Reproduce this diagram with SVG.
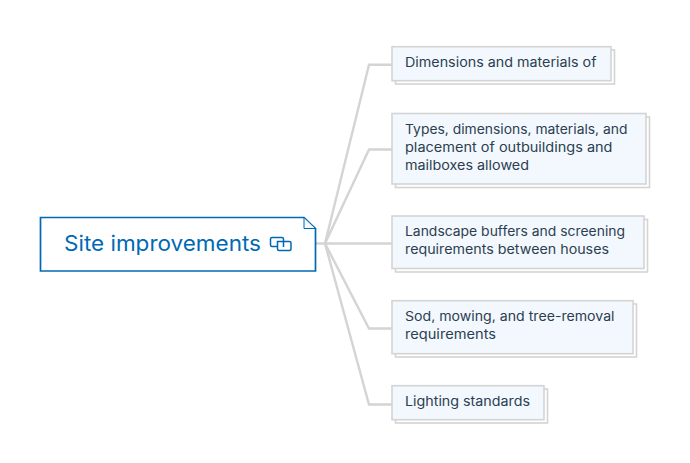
<svg xmlns="http://www.w3.org/2000/svg" width="690" height="463" viewBox="0 0 690 463">
<style>
.shadow{fill:#fff;stroke:#d4d4d4;stroke-width:1.6}
.box{fill:#f2f8fe;stroke:#d4d4d4;stroke-width:1.6}
.t{font-family:"Inter","Noto Sans","Liberation Sans",sans-serif;font-size:13px;fill:#2c3e50}
.c{fill:none;stroke:#d4d4d4;stroke-width:2.4}
.r{fill:none;stroke:#0069b4}
</style>
<rect width="690" height="463" fill="#fff"/>
<g id="connectors">
<path class="c" d="M316 243.500H325L369 64.700H392"/>
<path class="c" d="M325 243.500L369 149.500H392"/>
<path class="c" d="M325 243.500H392"/>
<path class="c" d="M325 243.500L369 328.500H392"/>
<path class="c" d="M325 243.500L369 404.500H392"/>
</g>
<g id="root">
<path d="M40.500 217.500H304L315.500 228.500V271H40.500Z" fill="#fff" stroke="#0069b4" stroke-width="1.700"/>
<path d="M304 217.500V228.500H315.500Z" fill="#f2f8fe" stroke="#0069b4" stroke-width="1"/>
<text x="64" y="251" font-family="Inter,'Noto Sans','Liberation Sans',sans-serif" font-size="21" fill="#0069b4" textLength="197" lengthAdjust="spacingAndGlyphs">Site improvements</text>
<g class="r" stroke-width="1.500">
<path d="M277 246.500H272Q270.500 246.500 270.500 245V239Q270.500 237.500 272 237.500H282Q283.500 237.500 283.500 239V247"/>
<path d="M277.500 241.500H289.500Q291 241.500 291 243V249Q291 250.500 289.500 250.500H279Q277.500 250.500 277.500 249Z"/>
</g>
</g>
<g id="n1">
<rect class="shadow" x="395.500" y="50" width="219" height="34"/>
<rect class="box" x="392" y="46.700" width="219" height="34"/>
<text class="t" x="405" y="66.500" textLength="191.500" lengthAdjust="spacingAndGlyphs">Dimensions and materials of</text>
</g>
<g id="n2">
<rect class="shadow" x="395.500" y="117" width="254" height="70.500"/>
<rect class="box" x="392" y="113.500" width="254" height="70.500"/>
<text class="t" x="405" y="133.500" textLength="222.500" lengthAdjust="spacingAndGlyphs">Types, dimensions, materials, and</text>
<text class="t" x="405" y="151.500" textLength="207.500" lengthAdjust="spacingAndGlyphs">placement of outbuildings and</text>
<text class="t" x="405" y="169.500" textLength="124" lengthAdjust="spacingAndGlyphs">mailboxes allowed</text>
</g>
<g id="n3">
<rect class="shadow" x="395.500" y="219.500" width="252" height="52.500"/>
<rect class="box" x="392" y="216" width="252" height="52.500"/>
<text class="t" x="405" y="236" textLength="220" lengthAdjust="spacingAndGlyphs">Landscape buffers and screening</text>
<text class="t" x="405" y="254" textLength="204" lengthAdjust="spacingAndGlyphs">requirements between houses</text>
</g>
<g id="n4">
<rect class="shadow" x="395.500" y="304" width="241" height="53"/>
<rect class="box" x="392" y="300.700" width="241" height="53"/>
<text class="t" x="405" y="320.500" textLength="209.500" lengthAdjust="spacingAndGlyphs">Sod, mowing, and tree-removal</text>
<text class="t" x="405" y="339" textLength="91" lengthAdjust="spacingAndGlyphs">requirements</text>
</g>
<g id="n5">
<rect class="shadow" x="395.500" y="389" width="152" height="34"/>
<rect class="box" x="392" y="385.700" width="152" height="34"/>
<text class="t" x="405" y="405.500" textLength="125" lengthAdjust="spacingAndGlyphs">Lighting standards</text>
</g>
</svg>
